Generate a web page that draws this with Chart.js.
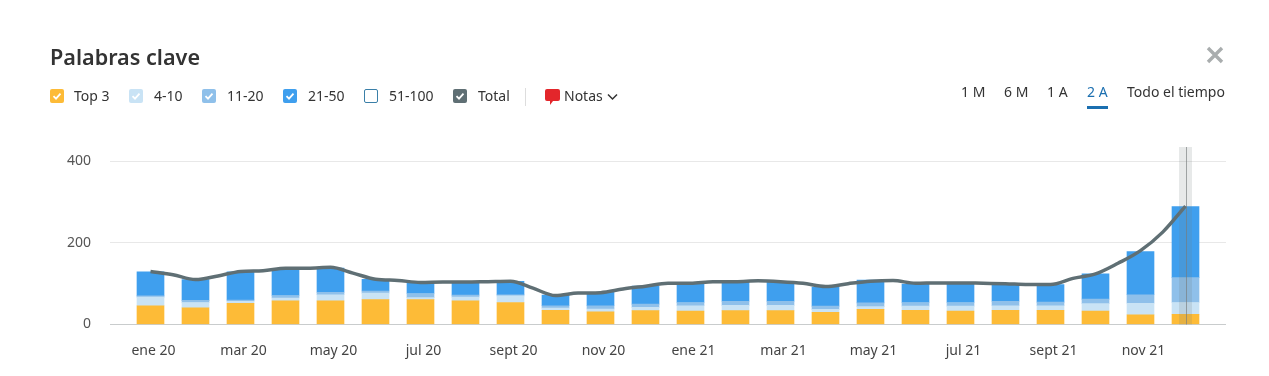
<!DOCTYPE html>
<html lang="es">
<head>
<meta charset="utf-8">
<title>Palabras clave</title>
<script src="https://cdn.jsdelivr.net/npm/chart.js@4/dist/chart.umd.min.js"></script>
<style>
  html, body { margin: 0; padding: 0; background: #fff; }
  body { width: 1269px; height: 376px; position: relative; overflow: hidden; font-family: "Noto Sans", sans-serif; color: #333; }
  #chart { position: absolute; left: 0; top: 0; }
  .abs { position: absolute; white-space: nowrap; }
  h1 { margin: 0; font-size: 21.6px; font-weight: 600; line-height: 28px; left: 50px; top: 43px; color: #333; }
  .lbl { font-size: 14px; line-height: 20px; top: 86px; color: #333; }
  .box { width: 14px; height: 14px; top: 89px; border-radius: 2px; }
  .box svg { display: block; }
  .range { font-size: 14px; line-height: 20px; top: 82px; color: #333; }
</style>
</head>
<body>
<canvas id="chart" width="1269" height="376"></canvas>
<h1 class="abs">Palabras clave</h1>
<div id="legend"></div>
<div class="abs" style="left:525px;top:88px;width:1px;height:18px;background:#ddd"></div>
<svg class="abs" style="left:544px;top:88px" width="17" height="18" viewBox="0 0 17 18">
  <path d="M3 1h11a2 2 0 0 1 2 2v8a2 2 0 0 1-2 2h-5l-3 4v-4H3a2 2 0 0 1-2-2V3a2 2 0 0 1 2-2z" fill="#e3262b"/>
</svg>
<div class="abs lbl" style="left:564px">Notas</div>
<svg class="abs" style="left:607px;top:93px" width="11" height="8" viewBox="0 0 11 8">
  <path d="M1 1.5l4.5 4.5 4.5-4.5" fill="none" stroke="#333" stroke-width="1.5"/>
</svg>
<div id="ranges"></div>
<div class="abs" style="left:1087px;top:106px;width:21px;height:3px;background:#1b6fb0"></div>
<svg class="abs" style="left:1206px;top:46px" width="18" height="18" viewBox="0 0 18 18">
  <path d="M2 2l14 14M16 2L2 16" stroke="#a9adae" stroke-width="3.4"/>
</svg>
<script>
// months, one bar per month
const months = ['ene 20','feb 20','mar 20','abr 20','may 20','jun 20','jul 20','ago 20','sept 20','oct 20','nov 20','dic 20',
                'ene 21','feb 21','mar 21','abr 21','may 21','jun 21','jul 21','ago 21','sept 21','oct 21','nov 21','dic 21'];

// values
const top3     = [46,41,52,58,58,61,61,58,54,35,31,34,33,34,34,30,37,35,33,35,35,33,24,25];
const pos4to10 = [21,13,5,7,15,16,5,9,16,5,7,8,13,13,13,7,7,10,12,11,11,18,28,29];
const pos11to20 = [3,5,3,6,6,5,10,5,3,6,8,8,8,10,10,8,9,9,9,11,9,11,21,61];
const pos21to50 = [59,51,69,65,59,29,29,33,33,26,33,44,47,47,47,47,56,45,47,42,43,62,106,174];
const total    = [130,110,130,138,140,111,103,104,106,71,78,94,101,105,105,93,106,101,102,100,98,124,181,290];
// the Total curve read halfway between two months, it has a plateau at each month
const totalBetween = [122,119,132,138,126,108,104,105,89,77,87,101,105,107,101,100,108,102,101,98,113,150,227];

const yTicks = [0,200,400];
const highlightIndex = 23;

const colors = { top3:'#fdbb37', p4:'#c9e3f5', p11:'#8fc0ea', p21:'#3f9fee', total:'#5f6f74' };

// header: legend and range picker
const legendItems = [
  { text:'Top 3',  box:50,  x:74,  color:colors.top3, check:true },
  { text:'4-10',   box:129, x:154, color:colors.p4,   check:true },
  { text:'11-20',  box:202, x:227, color:colors.p11,  check:true },
  { text:'21-50',  box:283, x:308, color:colors.p21,  check:true },
  { text:'51-100', box:364, x:389, color:'#3a7fa8',   check:false },
  { text:'Total',  box:453, x:478, color:colors.total, check:true }
];
const rangeItems = [
  { text:'1 M', x:961 }, { text:'6 M', x:1004 }, { text:'1 A', x:1047 },
  { text:'2 A', x:1087, active:true }, { text:'Todo el tiempo', x:1127 }
];

const legendEl = document.getElementById('legend');
legendItems.forEach(function (it) {
  const box = document.createElement('div');
  box.className = 'abs box';
  box.style.left = it.box + 'px';
  if (it.check) {
    box.style.background = it.color;
    box.innerHTML = '<svg width="14" height="14" viewBox="0 0 14 14"><path d="M3.5 7.2l2.5 2.5 4.5-5" fill="none" stroke="#fff" stroke-width="1.8"/></svg>';
  } else {
    box.style.boxSizing = 'border-box';
    box.style.border = '1.3px solid ' + it.color;
  }
  legendEl.appendChild(box);
  const lbl = document.createElement('div');
  lbl.className = 'abs lbl';
  lbl.style.left = it.x + 'px';
  lbl.textContent = it.text;
  legendEl.appendChild(lbl);
});

const rangesEl = document.getElementById('ranges');
rangeItems.forEach(function (it) {
  const el = document.createElement('div');
  el.className = 'abs range';
  el.style.left = it.x + 'px';
  el.style.color = it.active ? '#1b6fb0' : '#333';
  el.textContent = it.text;
  rangesEl.appendChild(el);
});

// hover band over the last month
const hoverBand = {
  id: 'hoverBand',
  afterDatasetsDraw: function (chart) {
    const x = chart.scales.x.getPixelForValue(highlightIndex);
    const area = chart.chartArea;
    const ctx = chart.ctx;
    ctx.save();
    ctx.fillStyle = 'rgba(110,125,125,0.17)';
    ctx.fillRect(x - 6.5, area.top, 13, area.bottom - area.top);
    ctx.strokeStyle = 'rgba(120,125,125,0.65)';
    ctx.lineWidth = 1;
    ctx.beginPath();
    ctx.moveTo(Math.round(x) + 0.5, area.top);
    ctx.lineTo(Math.round(x) + 0.5, area.bottom);
    ctx.stroke();
    ctx.restore();
  }
};

function points(values) {
  return values.map(function (v, i) { return { x: i, y: v }; });
}

function totalPoints() {
  const out = [];
  total.forEach(function (v, i) {
    out.push({ x: i, y: v });
    if (i < totalBetween.length) out.push({ x: i + 0.5, y: totalBetween[i] });
  });
  return out;
}

function barSet(label, values, color) {
  return { type:'bar', label:label, data:points(values), backgroundColor:color, stack:'bars', barThickness:27, order:2 };
}

new Chart(document.getElementById('chart'), {
  data: {
    datasets: [
      { type:'line', label:'Total', data:totalPoints(), stack:'line', borderColor:colors.total, borderWidth:3.5,
        pointRadius:0, fill:false, cubicInterpolationMode:'monotone', order:1 },
      barSet('Top 3', top3, colors.top3),
      barSet('4-10', pos4to10, colors.p4),
      barSet('11-20', pos11to20, colors.p11),
      barSet('21-50', pos21to50, colors.p21)
    ]
  },
  plugins: [hoverBand],
  options: {
    responsive: false,
    animation: false,
    layout: { padding: { top:147, right:43, left:0, bottom:0 } },
    plugins: { legend: { display:false }, tooltip: { enabled:false } },
    scales: {
      x: {
        type: 'linear',
        offset: false,
        min: -0.9,
        max: 23.9,
        grid: { display:false, drawTicks:false },
        border: { display:false },
        ticks: {
          padding: 18,
          labelOffset: 3,
          maxRotation: 0,
          autoSkip: false,
          color: '#444',
          font: { family:'"Noto Sans", sans-serif', size:14 },
          callback: function (v) { return months[v]; }
        },
        afterBuildTicks: function (axis) {
          axis.ticks = months.map(function (m, i) { return { value:i }; }).filter(function (t) { return t.value % 2 === 0; });
        },
        afterFit: function (axis) { axis.height = 51.5; }
      },
      y: {
        stacked: true,
        min: 0,
        max: 435,
        grid: {
          drawTicks: false,
          lineWidth: 1,
          color: function (c) { return c.tick.value === 0 ? '#c9cccd' : '#e8e8e8'; }
        },
        border: { display:false },
        ticks: {
          padding: 19,
          color: '#555',
          font: { family:'"Noto Sans", sans-serif', size:14 }
        },
        afterBuildTicks: function (axis) {
          axis.ticks = yTicks.map(function (v) { return { value:v }; });
        },
        afterFit: function (axis) { axis.width = 110; }
      }
    }
  }
});
</script>
</body>
</html>
